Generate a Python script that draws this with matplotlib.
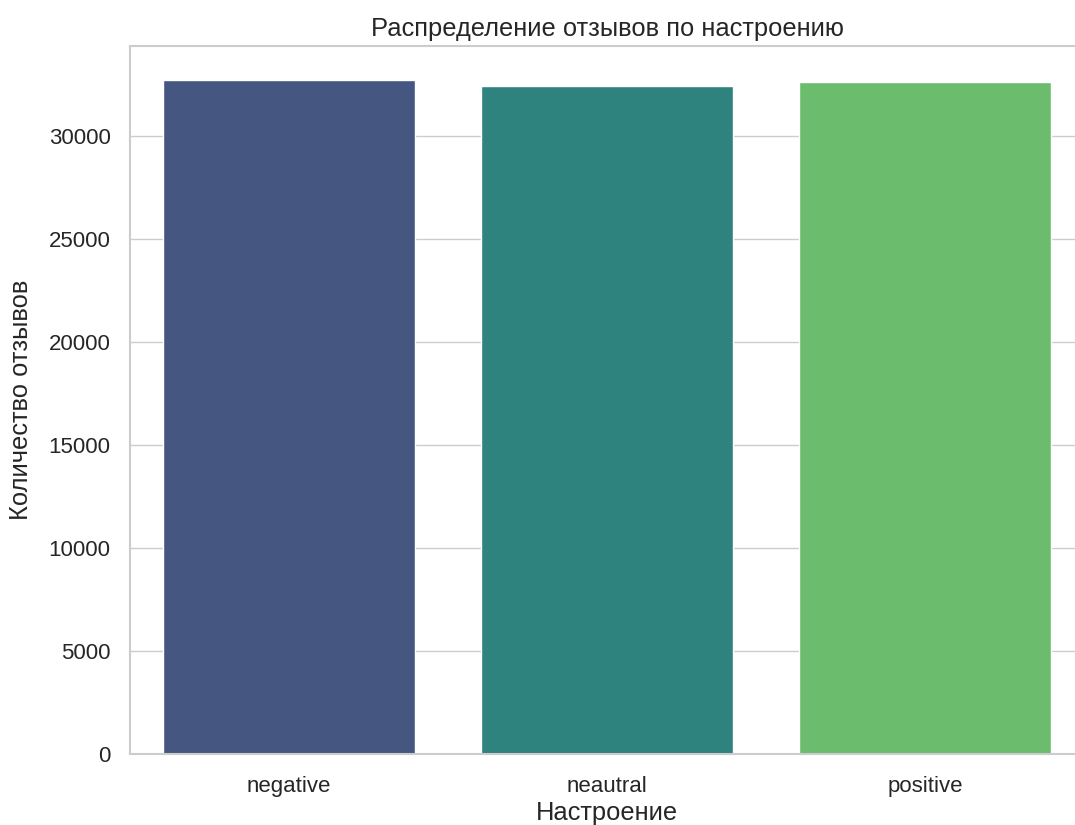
import matplotlib
matplotlib.use('Agg')
import matplotlib.pyplot as plt
import seaborn as sns

sentiments = ['negative', 'neautral', 'positive']
counts = [32710, 32400, 32630]

sns.set_theme(style='whitegrid')
plt.rcParams['font.family'] = ['Liberation Sans', 'DejaVu Sans']

fig = plt.figure(figsize=(10.75, 8.25), dpi=100)
ax = fig.add_axes([0.121, 0.086, 0.8874, 0.858])

sns.barplot(x=sentiments, y=counts, hue=sentiments, palette='viridis',
            legend=False, ax=ax, width=0.79)

ax.set_title('Распределение отзывов по настроению', fontsize=18.4, pad=7)
ax.set_xlabel('Настроение', fontsize=18.4, labelpad=3)
ax.set_ylabel('Количество отзывов', fontsize=18.4, labelpad=11)
ax.tick_params(axis='y', labelsize=16, pad=8)
ax.tick_params(axis='x', labelsize=16, pad=10)
for s in ax.spines.values():
    s.set_color('#cccccc')
    s.set_linewidth(1.5)

fig.savefig('out.png', dpi=100)
